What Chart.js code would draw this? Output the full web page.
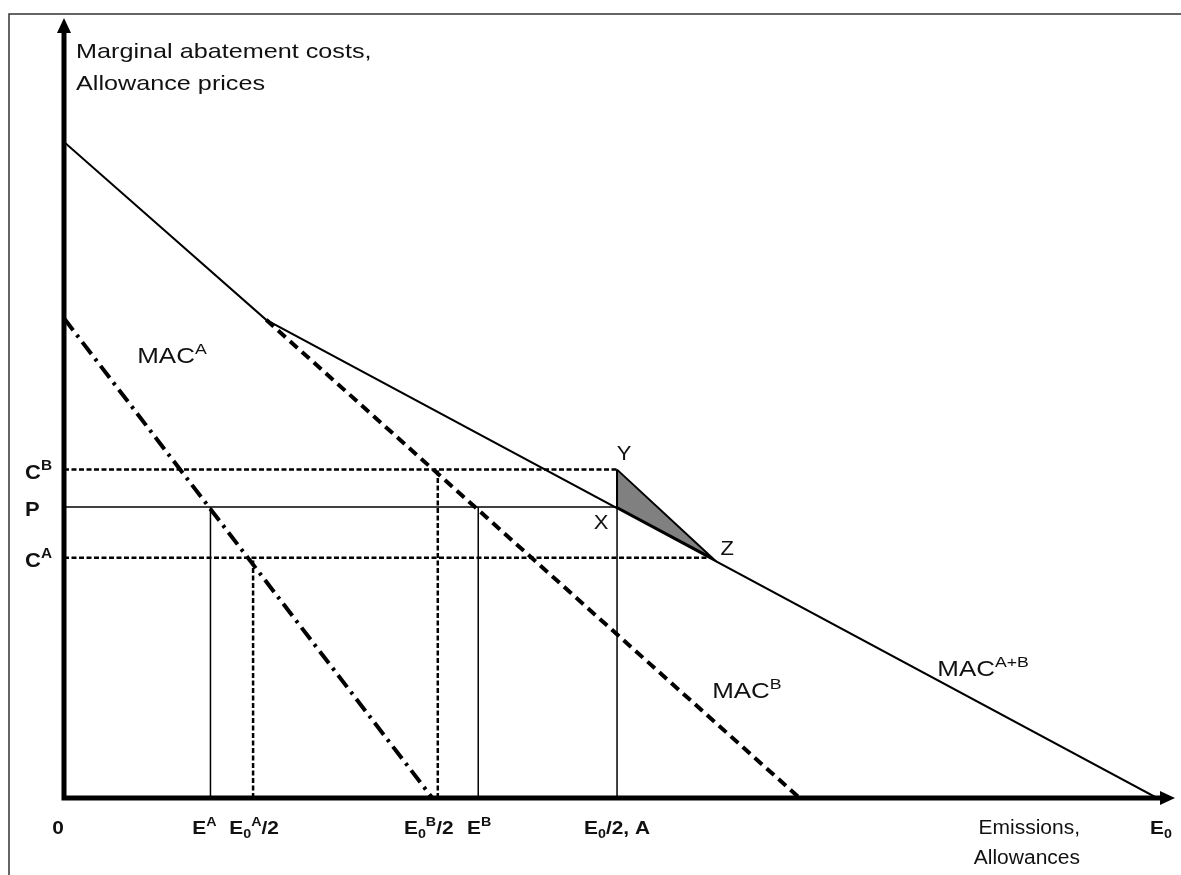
<!DOCTYPE html>
<html>
<head>
<meta charset="utf-8">
<script src="https://cdn.jsdelivr.net/npm/chart.js@4.4.1/dist/chart.umd.min.js"></script>
<style>
    body { margin: 0; background: #fff; }
    #wrap { width: 1181px; height: 875px; position: relative; }
</style>
</head>
<body>
<div id="wrap"><canvas id="chart"></canvas></div>
<script>
// axis ticks (emissions / allowances on x, cost / price on y)
const xTickLabels = ['0', 'E^A', 'E_0^A/2', 'E_0^B/2', 'E^B', 'E_0/2, A', 'E_0'];
const xTickValues = [0, 13.4, 17.3, 34.2, 37.9, 50.6, 100];
const yTickLabels = ['C^B', 'P', 'C^A'];
const yTickValues = [42.1, 37.3, 30.8];

// marginal abatement cost curves
const macABx = [0, 18.5, 100];
const macABy = [84.1, 61.3, 0];
const macBx = [18.5, 67.3];
const macBy = [61.3, 0];
const macAx = [0, 33.7];
const macAy = [61.5, 0];

// point Z on the aggregate curve
const zX = 59.3;

const [cB, price, cA] = yTickValues;
const [, eA, e0A2, e0B2, eB, half] = xTickValues;

const FONT = '"Liberation Sans", Arial, sans-serif';

function pts(xs, ys) {
    return xs.map((x, i) => ({ x: x, y: ys[i] }));
}

function seg(data, width, dash) {
    return {
        data: data,
        showLine: true,
        borderColor: '#000',
        borderWidth: width,
        borderDash: dash || [],
        pointRadius: 0,
        fill: false,
    };
}

function parseRich(str) {
    const segs = [];
    let buf = '';
    let i = 0;
    const flush = () => { if (buf) { segs.push({ t: buf, k: '' }); buf = ''; } };
    while (i < str.length) {
        const ch = str[i];
        if (ch === '^' || ch === '_') {
            flush();
            let t;
            if (str[i + 1] === '{') {
                const j = str.indexOf('}', i);
                t = str.slice(i + 2, j);
                i = j + 1;
            } else {
                t = str[i + 1];
                i += 2;
            }
            segs.push({ t: t, k: ch === '^' ? 'sup' : 'sub' });
        } else {
            buf += ch;
            i++;
        }
    }
    flush();
    return segs;
}

// text with sub/superscripts, stretched sideways by sx like the source
function drawRich(ctx, str, x, y, align, size, weight, sx) {
    const segs = parseRich(str);
    const small = Math.round(size * 0.68);
    const fontOf = k => `${weight} ${k ? small : size}px ${FONT}`;
    let w = 0;
    segs.forEach(s => {
        ctx.font = fontOf(s.k);
        s.w = ctx.measureText(s.t).width;
        w += s.w;
    });
    let x0 = x;
    if (align === 'center') x0 = x - w * sx / 2;
    if (align === 'right') x0 = x - w * sx;
    ctx.save();
    ctx.translate(x0, y);
    ctx.scale(sx, 1);
    ctx.fillStyle = '#111';
    ctx.textBaseline = 'alphabetic';
    ctx.textAlign = 'left';
    let cx = 0;
    segs.forEach(s => {
        ctx.font = fontOf(s.k);
        const dy = s.k === 'sup' ? -size * 0.42 : (s.k === 'sub' ? size * 0.22 : 0);
        ctx.fillText(s.t, cx, dy);
        cx += s.w;
    });
    ctx.restore();
}

const diagram = {
    id: 'diagram',
    afterDatasetsDraw(chart) {
        const ctx = chart.ctx;
        const xs = chart.scales.x;
        const ys = chart.scales.y;
        const x0 = xs.getPixelForValue(0);
        const y0 = ys.getPixelForValue(0);
        const top = chart.chartArea.top;
        const right = chart.chartArea.right;

        ctx.save();
        // outer frame
        ctx.strokeStyle = '#333';
        ctx.lineWidth = 1.5;
        ctx.beginPath();
        ctx.moveTo(9, chart.height);
        ctx.lineTo(9, 14);
        ctx.lineTo(chart.width, 14);
        ctx.stroke();

        // axes with arrows
        ctx.strokeStyle = '#000';
        ctx.fillStyle = '#000';
        ctx.lineWidth = 5;
        ctx.beginPath();
        ctx.moveTo(x0, y0 + 2.5);
        ctx.lineTo(x0, top + 12);
        ctx.moveTo(x0 - 2.5, y0);
        ctx.lineTo(right - 12, y0);
        ctx.stroke();
        ctx.beginPath();
        ctx.moveTo(x0, top);
        ctx.lineTo(x0 - 7, top + 15);
        ctx.lineTo(x0 + 7, top + 15);
        ctx.closePath();
        ctx.fill();
        ctx.beginPath();
        ctx.moveTo(right, y0);
        ctx.lineTo(right - 15, y0 - 7);
        ctx.lineTo(right - 15, y0 + 7);
        ctx.closePath();
        ctx.fill();
        ctx.restore();
    },
    afterDraw(chart) {
        const ctx = chart.ctx;
        const xs = chart.scales.x;
        const ys = chart.scales.y;
        const y0 = ys.getPixelForValue(0);

        // axis titles
        drawRich(ctx, 'Marginal abatement costs,', 76, 58, 'left', 21, 'normal', 1.2);
        drawRich(ctx, 'Allowance prices', 76, 90, 'left', 21, 'normal', 1.2);
        drawRich(ctx, 'Emissions,', 1080, y0 + 36, 'right', 20, 'normal', 1.05);
        drawRich(ctx, 'Allowances', 1080, y0 + 66, 'right', 20, 'normal', 1.05);

        // tick labels, nudged a little like the source
        const xShift = [-6, -6, 1, -9, 1, 0, 4];
        xTickLabels.forEach((t, i) => {
            drawRich(ctx, t, xs.getPixelForValue(xTickValues[i]) + xShift[i], y0 + 36, 'center', 19, 'bold', 1.1);
        });
        yTickLabels.forEach((t, i) => {
            drawRich(ctx, t, 25, ys.getPixelForValue(yTickValues[i]) + 9, 'left', 20, 'bold', 1.1);
        });

        // points on the aggregate curve
        const pointNames = [
            ['Y', half, cB, 7, -10],
            ['X', half, price, -16, 22],
            ['Z', zX, cA, 15, -3],
        ];
        pointNames.forEach(p => {
            drawRich(ctx, p[0], xs.getPixelForValue(p[1]) + p[3], ys.getPixelForValue(p[2]) + p[4], 'center', 20, 'normal', 1.1);
        });

        // curve names
        const curveNames = [
            ['MAC^A', 6.7, 56.8],
            ['MAC^B', 59.3, 13.8],
            ['MAC^{A+B}', 79.9, 16.7],
        ];
        curveNames.forEach(c => {
            drawRich(ctx, c[0], xs.getPixelForValue(c[1]), ys.getPixelForValue(c[2]) + 8, 'left', 22, 'normal', 1.18);
        });
    }
};

const triangle = seg([
    { x: half, y: cB },
    { x: half, y: price },
    { x: zX, y: cA },
    { x: half, y: cB },
], 2);
triangle.fill = 'shape';
triangle.backgroundColor = '#808080';

new Chart(document.getElementById('chart'), {
    type: 'scatter',
    data: {
        datasets: [
            triangle,
            seg(pts(macABx, macABy), 2),
            seg(pts(macBx, macBy), 4, [10, 6]),
            seg(pts(macAx, macAy), 4, [15, 6, 3, 6]),
            // price levels
            seg([{ x: 0, y: cB }, { x: half, y: cB }], 2.5, [5, 2.5]),
            seg([{ x: 0, y: price }, { x: half, y: price }], 1.5),
            seg([{ x: 0, y: cA }, { x: zX, y: cA }], 2.5, [5, 2.5]),
            // emission levels
            seg([{ x: eA, y: 0 }, { x: eA, y: price }], 1.5),
            seg([{ x: eB, y: 0 }, { x: eB, y: price }], 1.5),
            seg([{ x: half, y: 0 }, { x: half, y: cB }], 1.5),
            seg([{ x: e0A2, y: 0 }, { x: e0A2, y: cA }], 2.5, [5, 2.5]),
            seg([{ x: e0B2, y: 0 }, { x: e0B2, y: cB }], 2.5, [5, 2.5]),
        ]
    },
    options: {
        responsive: true,
        maintainAspectRatio: false,
        animation: false,
        layout: {
            padding: { left: 64, right: 6, top: 18, bottom: 77 }
        },
        plugins: {
            legend: { display: false },
            tooltip: { enabled: false },
        },
        scales: {
            x: { type: 'linear', min: 0, max: 101.65, display: false },
            y: { type: 'linear', min: 0, max: 100, display: false },
        }
    },
    plugins: [diagram]
});
</script>
</body>
</html>
